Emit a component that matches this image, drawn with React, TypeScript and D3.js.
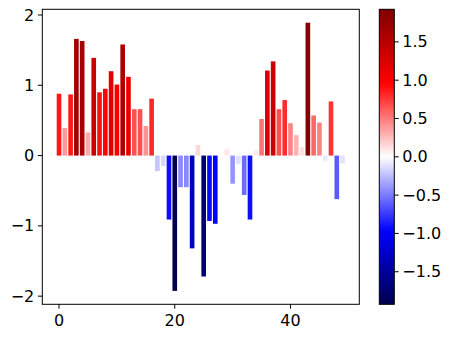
import React from "react";
import * as d3 from "d3";

// bar heights (index 0..49)
const values = [
  0.88, 0.39, 0.87, 1.66, 1.63, 0.33, 1.39, 0.9, 0.95, 1.2,
  1.01, 1.58, 1.12, 0.66, 0.66, 0.42, 0.81, -0.22, -0.15, -0.91,
  -1.925, -0.45, -0.45, -1.32, 0.15, -1.72, -0.93, -0.97, -0.01, 0.09,
  -0.4, -0.12, -0.56, -0.91, 0.075, 0.52, 1.21, 1.34, 0.66, 0.79,
  0.46, 0.29, 0.12, 1.89, 0.57, 0.47, -0.08, 0.77, -0.62, -0.11,
];
const xTicks = [0, 20, 40];
const yTicks = [-2, -1, 0, 1, 2];
const cbTicks = [-1.5, -1.0, -0.5, 0.0, 0.5, 1.0, 1.5];

// matplotlib "seismic" colormap anchors
const seismic = ["rgb(0,0,77)", "rgb(0,0,255)", "rgb(255,255,255)", "rgb(255,0,0)", "rgb(128,0,0)"];

const W = 452;
const H = 338;
const plot = { left: 42.3, right: 359.3, top: 9.3, bottom: 304.3 };
const cbar = { left: 379.3, right: 394.3, top: 9.3, bottom: 304.3 };
const font = "DejaVu Sans, sans-serif";

const fmt = (v: number) => v.toString().replace("-", "\u2212");
const fmt1 = (v: number) => v.toFixed(1).replace("-", "\u2212");

export default function App() {
  const n = values.length;
  const xPad = (n - 1 + 0.8) * 0.05;
  const xScale = d3
    .scaleLinear()
    .domain([-0.4 - xPad, n - 1 + 0.4 + xPad])
    .range([plot.left, plot.right]);

  const [lo, hi] = d3.extent(values) as [number, number];
  const yPad = (hi - lo) * 0.05;
  const yScale = d3
    .scaleLinear()
    .domain([lo - yPad, hi + yPad])
    .range([plot.bottom, plot.top]);

  const vmax = d3.max(values, (d) => Math.abs(d)) as number;
  const color = d3
    .scaleLinear<string>()
    .domain([-vmax, -vmax / 2, 0, vmax / 2, vmax])
    .range(seismic)
    .interpolate(d3.interpolateRgb);
  const cbScale = d3
    .scaleLinear()
    .domain([-vmax, vmax])
    .range([cbar.bottom, cbar.top]);

  const bw = xScale(0.8) - xScale(0);
  const stops = d3.range(0, 1.0001, 0.02);

  return (
    <svg
      width={W}
      height={H}
      style={{ position: "absolute", left: 0, top: 0, background: "#fff" }}
      fontFamily={font}
    >
      <defs>
        <linearGradient id="cb" x1="0" y1="1" x2="0" y2="0">
          {stops.map((t) => (
            <stop key={t} offset={t} stopColor={color(-vmax + 2 * vmax * t)} />
          ))}
        </linearGradient>
      </defs>

      {values.map((v, i) => (
        <rect
          key={i}
          x={xScale(i) - bw / 2}
          y={yScale(Math.max(v, 0))}
          width={bw}
          height={Math.abs(yScale(v) - yScale(0))}
          fill={color(v)}
        />
      ))}

      <rect
        x={plot.left}
        y={plot.top}
        width={plot.right - plot.left}
        height={plot.bottom - plot.top}
        fill="none"
        stroke="#000"
        strokeWidth={1}
      />

      {yTicks.map((t) => (
        <g key={t} transform={`translate(0,${yScale(t)})`}>
          <line x1={plot.left - 4.4} x2={plot.left} stroke="#000" />
          <text x={plot.left - 8} dy="0.35em" textAnchor="end" fontSize={16}>
            {fmt(t)}
          </text>
        </g>
      ))}

      {xTicks.map((t) => (
        <g key={t} transform={`translate(${xScale(t)},0)`}>
          <line y1={plot.bottom} y2={plot.bottom + 4.4} stroke="#000" />
          <text y={plot.bottom + 22} textAnchor="middle" fontSize={16}>
            {fmt(t)}
          </text>
        </g>
      ))}

      <rect
        x={cbar.left}
        y={cbar.top}
        width={cbar.right - cbar.left}
        height={cbar.bottom - cbar.top}
        fill="url(#cb)"
        stroke="#000"
        strokeWidth={1}
      />
      {cbTicks.map((t) => (
        <g key={t} transform={`translate(0,${cbScale(t)})`}>
          <line x1={cbar.right} x2={cbar.right + 4.4} stroke="#000" />
          <text x={cbar.right + 8} dy="0.35em" fontSize={16}>
            {fmt1(t)}
          </text>
        </g>
      ))}
    </svg>
  );
}
